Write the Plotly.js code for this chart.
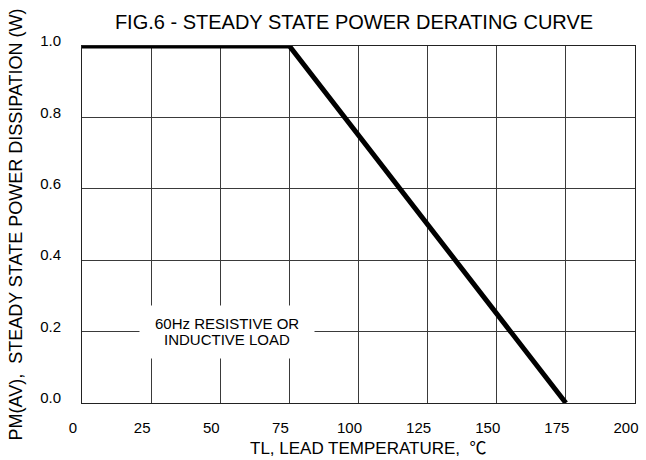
<!DOCTYPE html>
<html>
<head>
<meta charset="utf-8">
<script src="https://cdn.plot.ly/plotly-3.0.1.min.js"></script>
<style>html,body{margin:0;padding:0;background:#fff;}#chart{width:646px;height:460px;}</style>
</head>
<body>
<div id="chart"></div>
<script>
// Data
var temperature = [0, 75, 175];          // TL, lead temperature (°C)
var powerDissipation = [1.0, 1.0, 0.0];  // PM(AV), steady state power dissipation (W)
var xTickValues = [0, 25, 50, 75, 100, 125, 150, 175, 200];
var yTickValues = [0.0, 0.2, 0.4, 0.6, 0.8, 1.0];
var chartTitle = "FIG.6 - STEADY STATE POWER DERATING CURVE";
var xTitle = "TL, LEAD TEMPERATURE,  \u2103";
var yTitle = "PM(AV),  STEADY STATE POWER DISSIPATION (W)";
var noteLines = ["60Hz RESISTIVE OR", "INDUCTIVE LOAD"];
var notePosition = {x: 52.5, y: 0.2};

var FONT = "Liberation Sans, Arial, Noto Sans CJK SC, sans-serif";

var trace = {
  x: temperature,
  y: powerDissipation,
  type: "scatter",
  mode: "lines",
  line: {color: "#000000", width: 5},
  hoverinfo: "skip"
};

var annotations = [
  {
    // white box behind the note (breaks the gridlines)
    text: " ",
    xref: "x", yref: "y",
    x: notePosition.x, y: notePosition.y,
    showarrow: false,
    bgcolor: "#ffffff",
    width: 172, height: 50,
    font: {family: FONT, size: 15}
  },
  {
    text: noteLines[0],
    xref: "x", yref: "y",
    x: notePosition.x, y: notePosition.y,
    yshift: 8,
    showarrow: false,
    font: {family: FONT, size: 15, color: "#000000"}
  },
  {
    text: noteLines[1],
    xref: "x", yref: "y",
    x: notePosition.x, y: notePosition.y,
    yshift: -8,
    showarrow: false,
    font: {family: FONT, size: 15, color: "#000000"}
  },
  {
    text: xTitle,
    xref: "paper", yref: "paper",
    x: (248 - 82) / 553, y: 0,
    xanchor: "left", yanchor: "middle",
    yshift: -45,
    showarrow: false,
    font: {family: FONT, size: 17, color: "#000000"}
  },
  {
    text: yTitle,
    xref: "paper", yref: "paper",
    x: 0, y: 0.5,
    xanchor: "center", yanchor: "middle",
    xshift: -67,
    textangle: -90,
    showarrow: false,
    font: {family: FONT, size: 18, color: "#000000"}
  }
];

var layout = {
  width: 646,
  height: 460,
  margin: {l: 82, r: 11, t: 46, b: 57},
  paper_bgcolor: "#ffffff",
  plot_bgcolor: "#ffffff",
  showlegend: false,
  font: {family: FONT, color: "#000000", size: 15},
  title: {
    text: chartTitle,
    font: {family: FONT, size: 20, color: "#000000"},
    x: 354 / 646, xanchor: "center",
    y: 1 - 22 / 460, yanchor: "middle"
  },
  xaxis: {
    range: [0, 200],
    tickvals: xTickValues,
    ticktext: xTickValues.map(String),
    showgrid: true,
    gridcolor: "#3a3a3a",
    gridwidth: 1,
    zeroline: false,
    showline: true,
    linecolor: "#222222",
    linewidth: 1,
    mirror: true,
    ticks: "",
    ticklabelstandoff: 11,
    ticklabelshift: -9,
    tickfont: {family: FONT, size: 15, color: "#000000"},
    fixedrange: true
  },
  yaxis: {
    range: [0, 1],
    tickvals: yTickValues,
    ticktext: yTickValues.map(function (v) { return v.toFixed(1); }),
    showgrid: true,
    gridcolor: "#3a3a3a",
    gridwidth: 1,
    zeroline: false,
    showline: true,
    linecolor: "#222222",
    linewidth: 1,
    mirror: true,
    ticks: "",
    ticklabelstandoff: 17,
    ticklabelshift: -5,
    tickfont: {family: FONT, size: 15, color: "#000000"},
    fixedrange: true
  },
  annotations: annotations
};

Plotly.newPlot("chart", [trace], layout, {displayModeBar: false, staticPlot: true});
</script>
</body>
</html>
